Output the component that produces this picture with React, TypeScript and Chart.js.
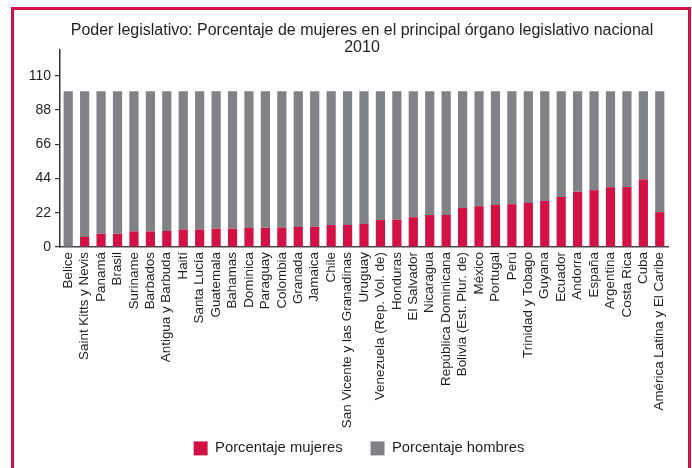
import React, { useEffect, useRef } from 'react';
import { Chart, registerables } from 'chart.js';

Chart.register(...registerables);

const titleLines = [
  'Poder legislativo: Porcentaje de mujeres en el principal órgano legislativo nacional',
  '2010',
];

const categories = [
  'Belice', 'Saint Kitts y Nevis', 'Panamá', 'Brasil', 'Suriname', 'Barbados',
  'Antigua y Barbuda', 'Haití', 'Santa Lucía', 'Guatemala', 'Bahamas', 'Dominica',
  'Paraguay', 'Colombia', 'Granada', 'Jamaica', 'Chile', 'San Vicente y las Granadinas',
  'Uruguay', 'Venezuela (Rep. Vol. de)', 'Honduras', 'El Salvador', 'Nicaragua',
  'República Dominicana', 'Bolivia (Est. Plur. de)', 'México', 'Portugal', 'Perú',
  'Trinidad y Tobago', 'Guyana', 'Ecuador', 'Andorra', 'España', 'Argentina',
  'Costa Rica', 'Cuba', 'América Latina y El Caribe',
];

const women = [
  0, 6.5, 8.5, 8.5, 10.0, 10.0,
  10.3, 11.1, 11.1, 11.8, 11.8, 12.2,
  12.3, 12.4, 12.9, 13.0, 14.1, 14.2,
  14.8, 17.3, 17.5, 19.1, 20.5,
  20.6, 25.0, 26.2, 27.0, 27.5,
  28.3, 29.6, 32.1, 35.4, 36.5, 38.4,
  38.5, 43.4, 22.4,
];

const men = [
  100, 93.5, 91.5, 91.5, 90.0, 90.0,
  89.7, 88.9, 88.9, 88.2, 88.2, 87.8,
  87.7, 87.6, 87.1, 87.0, 85.9, 85.8,
  85.2, 82.7, 82.5, 80.9, 79.5,
  79.4, 75.0, 73.8, 73.0, 72.5,
  71.7, 70.4, 67.9, 64.6, 63.5, 61.6,
  61.5, 56.6, 77.6,
];

const yTicks = [0, 22, 44, 66, 88, 110];

const seriesNames = ['Porcentaje mujeres', 'Porcentaje hombres'];
const RED = '#d21245';
const GRAY = '#818286';
const FONT = '"Liberation Sans", Arial, Helvetica, sans-serif';
const TEXT = '#231f20';

const titlePlugin = {
  id: 'customTitle',
  afterDraw(chart: any) {
    const ctx = chart.ctx;
    ctx.save();
    ctx.font = `16px ${FONT}`;
    ctx.fillStyle = TEXT;
    ctx.textAlign = 'center';
    ctx.textBaseline = 'middle';
    ctx.fillText(titleLines[0], 362, 31);
    ctx.fillText(titleLines[1], 362, 48);
    ctx.restore();
  },
};

const legendShift = {
  id: 'legendShift',
  afterLayout(chart: any) {
    const l = chart.legend;
    if (!l) return;
    const dx = 13;
    const dy = -17;
    l.left += dx;
    l.right += dx;
    l.top += dy;
    l.bottom = chart.height;
  },
};

export default function App() {
  const ref = useRef<HTMLCanvasElement | null>(null);

  useEffect(() => {
    if (!ref.current) return;
    const chart = new Chart(ref.current, {
      type: 'bar',
      data: {
        labels: categories,
        datasets: [
          {
            label: seriesNames[0],
            data: women,
            backgroundColor: RED,
            borderWidth: 0,
            barPercentage: 0.56,
            categoryPercentage: 1,
          },
          {
            label: seriesNames[1],
            data: men,
            backgroundColor: GRAY,
            borderWidth: 0,
            barPercentage: 0.56,
            categoryPercentage: 1,
          },
        ],
      },
      options: {
        animation: false,
        responsive: false,
        maintainAspectRatio: false,
        layout: { padding: { left: 24, right: 24, top: 50, bottom: 2 } },
        plugins: {
          title: { display: false },
          tooltip: { enabled: false },
          legend: {
            position: 'bottom',
            maxHeight: 36,
            labels: {
              boxWidth: 14,
              boxHeight: 14,
              padding: 28,
              color: TEXT,
              font: { family: FONT, size: 14.8 },
            },
          },
        },
        scales: {
          x: {
            stacked: true,
            afterFit: (scale: any) => {
              scale.height = 183;
            },
            grid: { display: false, drawTicks: false },
            border: { display: true, color: '#444', width: 1.5 },
            ticks: {
              autoSkip: false,
              maxRotation: 90,
              minRotation: 90,
              padding: 5,
              color: TEXT,
              font: { family: FONT, size: 13.4 },
            },
          },
          y: {
            stacked: true,
            min: 0,
            max: 126.5,
            afterBuildTicks: (scale: any) => {
              scale.ticks = yTicks.map((v) => ({ value: v }));
            },
            afterFit: (scale: any) => {
              scale.width = 36;
            },
            grid: { display: true, drawOnChartArea: false, drawTicks: true, tickLength: 5, color: '#333', lineWidth: 1.2 },
            border: { display: true, color: '#333', width: 1.5 },
            ticks: {
              padding: 4,
              color: TEXT,
              font: { family: FONT, size: 14 },
            },
          },
        },
      },
      plugins: [titlePlugin, legendShift],
    });
    return () => chart.destroy();
  }, []);

  return (
    <div style={{ position: 'fixed', left: 0, top: 0, width: 692, height: 468, overflow: 'hidden', background: '#fff' }}>
      <div
        style={{
          position: 'absolute',
          left: 11,
          top: 7,
          width: 680,
          height: 480,
          boxSizing: 'border-box',
          border: `3px solid ${RED}`,
          borderBottom: 'none',
        }}
      />
      <canvas ref={ref} width={692} height={468} style={{ position: 'absolute', left: 0, top: 0, width: 692, height: 468 }} />
    </div>
  );
}
